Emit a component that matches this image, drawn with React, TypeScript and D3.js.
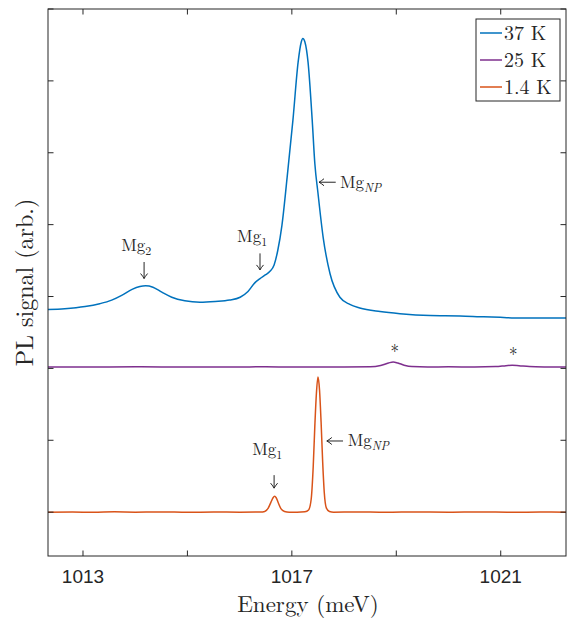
import React from "react";
import * as d3 from "d3";

// spectra: energy (meV) and PL signal (arb., offset per trace)
const blueE = [1012.33, 1012.65, 1013.04, 1013.32, 1013.55, 1013.75, 1013.94, 1014.09, 1014.2, 1014.34, 1014.51, 1014.7, 1014.95, 1015.24, 1015.53, 1015.81, 1016.01, 1016.16, 1016.29, 1016.39, 1016.49, 1016.58, 1016.66, 1016.73, 1016.81, 1016.91, 1017.02, 1017.12, 1017.18, 1017.21, 1017.25, 1017.31, 1017.39, 1017.44, 1017.5, 1017.6, 1017.73, 1017.92, 1018.11, 1018.3, 1018.69, 1019.07, 1019.65, 1020.22, 1020.6, 1020.99, 1021.37, 1021.75, 1022.25];
const blueV = [2.82, 2.83, 2.86, 2.9, 2.95, 3.02, 3.1, 3.14, 3.15, 3.13, 3.06, 2.99, 2.94, 2.92, 2.93, 2.95, 2.99, 3.07, 3.19, 3.25, 3.3, 3.35, 3.44, 3.64, 3.99, 4.66, 5.45, 6.26, 6.54, 6.59, 6.54, 6.26, 5.45, 4.85, 4.44, 3.82, 3.32, 2.99, 2.89, 2.84, 2.79, 2.76, 2.735, 2.73, 2.72, 2.71, 2.7, 2.7, 2.7];

const purpleE = [1012.33, 1013.0, 1014.0, 1015.0, 1016.0, 1016.5, 1017.0, 1017.5, 1018.0, 1018.5, 1018.7, 1018.85, 1018.94, 1019.03, 1019.15, 1019.3, 1019.6, 1020.0, 1020.5, 1020.9, 1021.1, 1021.22, 1021.35, 1021.55, 1021.9, 1022.25];
const purpleV = [2.02, 2.02, 2.022, 2.018, 2.02, 2.022, 2.018, 2.02, 2.02, 2.022, 2.04, 2.075, 2.09, 2.075, 2.045, 2.025, 2.02, 2.022, 2.02, 2.025, 2.038, 2.045, 2.038, 2.025, 2.02, 2.018];

const orangeE = [1012.33, 1012.8, 1013.2, 1013.6, 1014.0, 1014.5, 1015.0, 1015.5, 1016.0, 1016.4, 1016.48, 1016.55, 1016.6, 1016.64, 1016.67, 1016.7, 1016.74, 1016.79, 1016.86, 1016.95, 1017.1, 1017.25, 1017.32, 1017.37, 1017.41, 1017.44, 1017.47, 1017.5, 1017.53, 1017.56, 1017.59, 1017.62, 1017.66, 1017.72, 1017.8, 1018.2, 1018.8, 1019.4, 1020.0, 1020.6, 1021.2, 1021.8, 1022.25];
const orangeV = [0.0, 0.003, -0.003, 0.004, 0.0, 0.003, -0.002, 0.002, 0.0, 0.002, 0.01, 0.06, 0.14, 0.2, 0.22, 0.2, 0.13, 0.05, 0.01, 0.0, 0.0, 0.005, 0.03, 0.18, 0.65, 1.2, 1.65, 1.88, 1.7, 1.25, 0.7, 0.28, 0.06, 0.01, 0.0, 0.003, -0.002, 0.003, 0.0, 0.003, -0.002, 0.002, 0.0];

const seriesNames = ["37 K", "25 K", "1.4 K"];
const seriesColors = ["#0072BD", "#7E2F8E", "#D95319"];

const xTicks = [1013, 1015, 1017, 1019, 1021];
const xTickLabels = ["1013", "", "1017", "", "1021"];
const yTicks = [0, 1, 2, 3, 4, 5, 6, 7];

// peak labels with a down arrow: label position, arrow x, arrow top/bottom (data units)
const downLabels = [
  { e: 1014.02, v: 3.63, ae: 1014.17, a0: 3.48, a1: 3.25, sub: "2" },
  { e: 1016.24, v: 3.755, ae: 1016.39, a0: 3.6, a1: 3.37, sub: "1" },
  { e: 1016.53, v: 0.79, ae: 1016.66, a0: 0.515, a1: 0.334, sub: "1" },
];
const npLabels = [
  { e0: 1017.84, e1: 1017.52, av: 4.59, te: 1017.92, tv: 4.51 },
  { e0: 1017.98, e1: 1017.67, av: 0.99, te: 1018.07, tv: 0.92 },
];
const stars = [
  { e: 1018.97, v: 2.29 },
  { e: 1021.24, v: 2.24 },
];

const W = 569;
const H = 618;
const M = { left: 48, right: 566, top: 9, bottom: 556 };
const AX = "#262626";
const SERIF = "Latin Modern Roman, Liberation Serif, serif";

export default function App() {
  const x = d3.scaleLinear().domain([1012.33, 1022.25]).range([M.left, M.right]);
  const y = d3.scaleLinear().domain([-0.61, 7]).range([M.bottom, M.top]);
  const line = d3
    .line<[number, number]>()
    .x((d) => x(d[0]))
    .y((d) => y(d[1]))
    .curve(d3.curveMonotoneX);

  const series = [
    d3.zip(blueE, blueV) as [number, number][],
    d3.zip(purpleE, purpleV) as [number, number][],
    d3.zip(orangeE, orangeV) as [number, number][],
  ];
  const tl = 5.5;

  return (
    <svg width={W} height={H} style={{ position: "absolute", left: 0, top: 0, background: "#fff" }}>
      <defs>
        <clipPath id="plotclip">
          <rect x={M.left} y={M.top} width={M.right - M.left} height={M.bottom - M.top} />
        </clipPath>
      </defs>

      {/* traces */}
      <g clipPath="url(#plotclip)">
        {series.map((s, i) => (
          <path key={i} d={line(s) || ""} fill="none" stroke={seriesColors[i]} strokeWidth={1.5} />
        ))}
      </g>

      {/* axes box + ticks */}
      <g stroke={AX} strokeWidth={1} fill="none">
        <rect x={M.left} y={M.top} width={M.right - M.left} height={M.bottom - M.top} />
        {xTicks.map((t) => (
          <g key={t}>
            <line x1={x(t)} x2={x(t)} y1={M.bottom} y2={M.bottom - tl} />
            <line x1={x(t)} x2={x(t)} y1={M.top} y2={M.top + tl} />
          </g>
        ))}
        {yTicks.map((t) => (
          <g key={t}>
            <line x1={M.left} x2={M.left + tl} y1={y(t)} y2={y(t)} />
            <line x1={M.right} x2={M.right - tl} y1={y(t)} y2={y(t)} />
          </g>
        ))}
      </g>
      {xTicks.map((t, i) => (
        <text key={t} x={x(t)} y={M.bottom + 27} textAnchor="middle" fontFamily="Liberation Sans, Arial, sans-serif" fontSize={19} fill={AX}>
          {xTickLabels[i]}
        </text>
      ))}

      {/* axis titles */}
      <text x={(M.left + M.right) / 2 + 1} y={612} textAnchor="middle" fontFamily={SERIF} fontSize={23} fill={AX}>
        Energy (meV)
      </text>
      <text transform={`translate(33,${(M.top + M.bottom) / 2}) rotate(-90)`} textAnchor="middle" fontFamily={SERIF} fontSize={24} fill={AX}>
        PL signal (arb.)
      </text>

      {/* peak labels */}
      <g fontFamily={SERIF} fill={AX}>
        {downLabels.map((a, i) => (
          <g key={i}>
            <text x={x(a.e)} y={y(a.v)} textAnchor="middle" fontSize={17}>
              Mg<tspan dy={4} fontSize={12}>{a.sub}</tspan>
            </text>
            <path
              d={`M${x(a.ae)},${y(a.a0)} V${y(a.a1)} M${x(a.ae) - 3.5},${y(a.a1) - 5} Q${x(a.ae) - 1},${y(a.a1) - 2} ${x(a.ae)},${y(a.a1)} Q${x(a.ae) + 1},${y(a.a1) - 2} ${x(a.ae) + 3.5},${y(a.a1) - 5}`}
              stroke={AX}
              strokeWidth={1}
              fill="none"
            />
          </g>
        ))}
        {npLabels.map((a, i) => (
          <g key={i}>
            <path
              d={`M${x(a.e0)},${y(a.av)} H${x(a.e1)} M${x(a.e1) + 5},${y(a.av) - 3.5} Q${x(a.e1) + 2},${y(a.av) - 1} ${x(a.e1)},${y(a.av)} Q${x(a.e1) + 2},${y(a.av) + 1} ${x(a.e1) + 5},${y(a.av) + 3.5}`}
              stroke={AX}
              strokeWidth={1}
              fill="none"
            />
            <text x={x(a.te)} y={y(a.tv)} fontSize={17}>
              Mg<tspan dy={4} fontSize={12} fontStyle="italic">NP</tspan>
            </text>
          </g>
        ))}
        {stars.map((s, i) => (
          <text key={i} x={x(s.e)} y={y(s.v) + 9} textAnchor="middle" fontSize={17}>
            *
          </text>
        ))}
      </g>

      {/* legend */}
      <g>
        <rect x={476} y={19} width={84} height={82} fill="#fff" stroke={AX} strokeWidth={1} />
        {seriesNames.map((n, i) => (
          <g key={n}>
            <line x1={480} x2={502} y1={33 + i * 27} y2={33 + i * 27} stroke={seriesColors[i]} strokeWidth={1.5} />
            <text x={504} y={33 + i * 27 + 7} fontFamily={SERIF} fontSize={20} fill={AX}>
              {n}
            </text>
          </g>
        ))}
      </g>
    </svg>
  );
}
